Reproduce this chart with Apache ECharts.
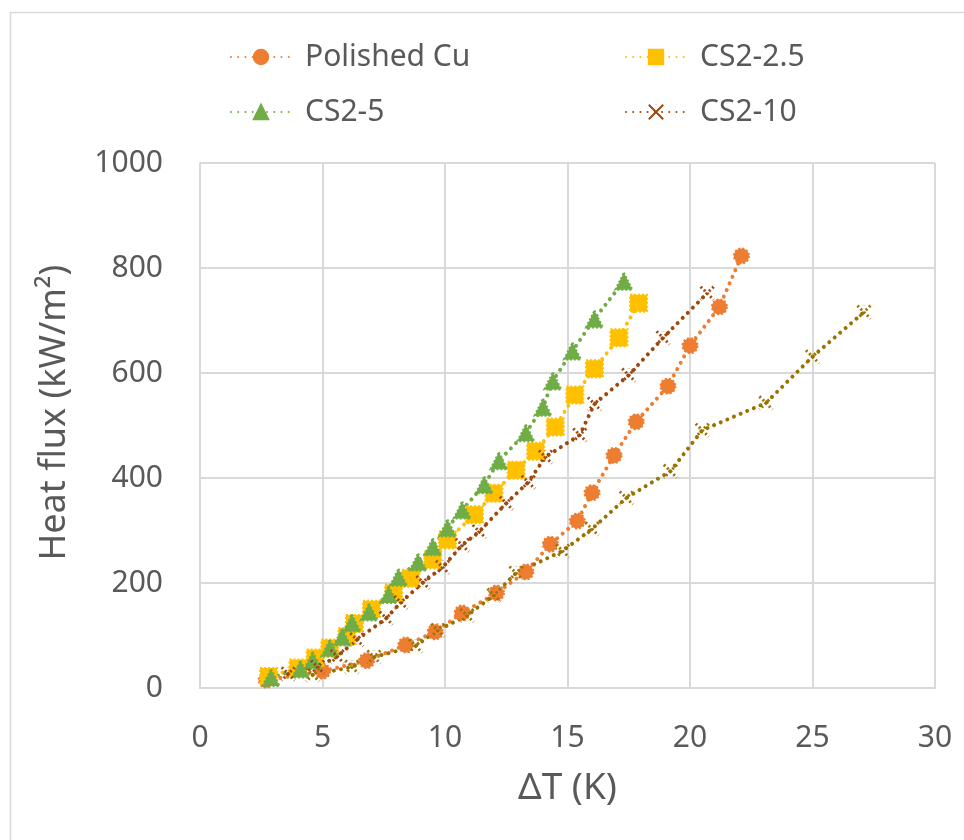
<!DOCTYPE html>
<html>
<head>
<meta charset="utf-8">
<script src="https://cdn.jsdelivr.net/npm/echarts@6/dist/echarts.min.js"></script>
<style>
  html, body { margin: 0; padding: 0; background: #fff; }
  #chart { width: 964px; height: 840px; }
</style>
</head>
<body>
<div id="chart"></div>
<script>
// Pool boiling curves: heat flux versus wall superheat
const polishedCu = [
  [2.7, 15], [5.0, 32], [6.8, 52], [8.4, 82], [9.6, 107], [10.7, 143],
  [12.1, 181], [13.3, 221], [14.3, 274], [15.4, 318], [16.0, 372],
  [16.9, 443], [17.8, 507], [19.1, 575], [20.0, 652], [21.2, 726], [22.1, 823]
];
const cs2_2_5 = [
  [2.8, 22], [4.0, 38], [4.7, 57], [5.3, 76], [6.0, 98], [6.3, 123],
  [7.0, 150], [7.9, 181], [8.6, 209], [9.5, 244], [10.1, 282], [11.2, 330],
  [12.0, 371], [12.9, 415], [13.7, 451], [14.5, 497], [15.3, 558],
  [16.1, 608], [17.1, 667], [17.9, 733]
];
const cs2_5 = [
  [2.9, 20], [4.1, 36], [4.6, 53], [5.3, 76], [5.8, 97], [6.2, 124],
  [6.9, 145], [7.7, 178], [8.1, 211], [8.9, 240], [9.5, 269], [10.1, 305],
  [10.7, 339], [11.6, 387], [12.2, 433], [13.3, 486], [14.0, 535],
  [14.4, 585], [15.2, 642], [16.1, 703], [17.3, 775]
];
const cs2_10 = [
  [3.6, 27], [4.8, 40], [5.6, 60], [6.4, 92], [7.6, 133], [8.2, 163],
  [9.1, 201], [9.9, 230], [10.7, 272], [11.4, 298], [12.5, 352],
  [13.4, 392], [14.1, 440], [15.5, 482], [16.1, 541], [17.5, 596],
  [18.9, 667], [20.7, 752]
];
const series5 = [
  [4.6, 25], [6.2, 40], [7.1, 59], [8.8, 80], [9.7, 110], [10.9, 138],
  [12.0, 177], [12.9, 219], [14.8, 261], [16.0, 303], [17.4, 362],
  [19.2, 413], [20.5, 491], [23.1, 543], [25.0, 631], [27.1, 716]
];
const legendNames = ['Polished Cu', 'CS2-2.5', 'CS2-5', 'CS2-10'];

const FONT = 'Noto Sans';
const TEXT = '#595959';
const GRID = '#d9d9d9';
// round caps turn near-zero dashes into dots
const DOTS = [0.01, 7.2];
const CROSS = 'path://M0,0L10,10M10,0L0,10M5,0L5,0.1';

function makeSeries(name, data, color, symbol, size, cross) {
  return {
    name: name,
    type: 'line',
    data: data,
    symbol: symbol,
    symbolSize: size,
    showSymbol: true,
    lineStyle: { color: color, width: 4, type: DOTS, cap: 'round' },
    itemStyle: cross
      ? { color: 'rgba(0,0,0,0)', borderColor: color, borderWidth: 3, borderType: [2, 2.5] }
      : { color: color, borderColor: color, borderWidth: 2, borderType: [2, 2] },
    emphasis: { disabled: true },
    z: 2
  };
}

const chart = echarts.init(document.getElementById('chart'));

function legendAt(name, left, top) {
  return {
    data: [name],
    left: left,
    top: top,
    itemWidth: 60,
    itemHeight: 18,
    selectedMode: false,
    textStyle: { fontFamily: FONT, fontSize: 30, color: TEXT, padding: [0, 0, 0, 9] }
  };
}

chart.setOption({
  animation: false,
  backgroundColor: '#ffffff',
  textStyle: { fontFamily: FONT },
  graphic: [{
    type: 'rect',
    shape: { x: 10.5, y: 12.5, width: 1000, height: 1000 },
    style: { fill: 'none', stroke: GRID, lineWidth: 1.5 },
    silent: true
  }],
  legend: [
    legendAt(legendNames[0], 225, 37),
    legendAt(legendNames[1], 620, 37),
    legendAt(legendNames[2], 225, 92),
    legendAt(legendNames[3], 620, 92)
  ],
  grid: { left: 200, right: 29, top: 163, bottom: 152 },
  xAxis: {
    type: 'value',
    min: 0, max: 30, interval: 5,
    name: '\u0394T (K)',
    nameLocation: 'middle',
    nameGap: 82,
    nameTextStyle: { fontFamily: FONT, fontSize: 37, color: TEXT },
    axisLine: { show: true, lineStyle: { color: GRID, width: 2 } },
    axisTick: { show: false },
    axisLabel: { fontFamily: FONT, fontSize: 30, color: TEXT, margin: 35 },
    splitLine: { show: true, lineStyle: { color: GRID, width: 2 } }
  },
  yAxis: {
    type: 'value',
    min: 0, max: 1000, interval: 200,
    name: 'Heat flux (kW/m\u00B2)',
    nameLocation: 'middle',
    nameGap: 127,
    nameTextStyle: { fontFamily: FONT, fontSize: 36, color: TEXT, padding: [0, 0, 0, 26] },
    axisLine: { show: true, lineStyle: { color: GRID, width: 2 } },
    axisTick: { show: false },
    axisLabel: {
      fontFamily: FONT, fontSize: 30, color: TEXT, margin: 37,
      formatter: function (v) { return String(v); }
    },
    splitLine: { show: true, lineStyle: { color: GRID, width: 2 } }
  },
  series: [
    makeSeries('Polished Cu', polishedCu, '#ED7D31', 'circle', 15, false),
    makeSeries('CS2-2.5', cs2_2_5, '#FFC000', 'rect', 17, false),
    makeSeries('CS2-5', cs2_5, '#70AD47', 'triangle', 17, false),
    makeSeries('CS2-10', cs2_10, '#9E480E', CROSS, 13, true),
    makeSeries('Series 5', series5, '#997300', CROSS, 13, true)
  ]
});
</script>
</body>
</html>
